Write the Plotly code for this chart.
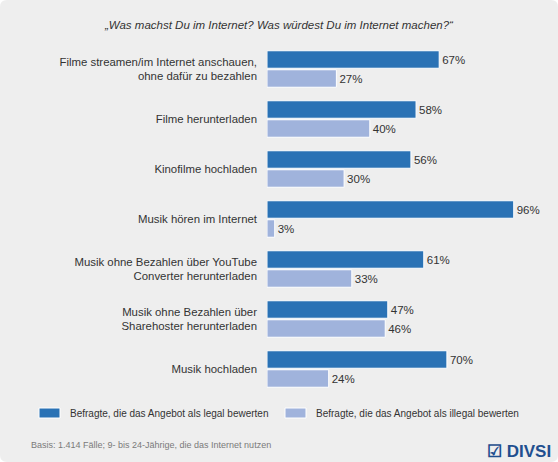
"""
DIVSI chart - legal vs. illegal rating of online activities
"""

import plotly.graph_objects as go

# --- data -----------------------------------------------------------------
categories = [
    "Filme streamen/im Internet anschauen,<br>ohne dafür zu bezahlen",
    "Filme herunterladen",
    "Kinofilme hochladen",
    "Musik hören im Internet",
    "Musik ohne Bezahlen über YouTube<br>Converter herunterladen",
    "Musik ohne Bezahlen über<br>Sharehoster herunterladen",
    "Musik hochladen",
]
legal = [67, 58, 56, 96, 61, 47, 70]
illegal = [27, 40, 30, 3, 33, 46, 24]

series_names = [
    "Befragte, die das Angebot als legal bewerten",
    "Befragte, die das Angebot als illegal bewerten",
]

title_text = "„Was machst Du im Internet? Was würdest Du im Internet machen?“"
source_text = "Basis: 1.414 Fälle; 9- bis 24-Jährige, die das Internet nutzen"

# --- layout helpers (pixel -> paper) ---------------------------------------
W, H = 558, 462
L, R, T, B = 267, 34, 44, 68
PW, PH = W - L - R, H - T - B


def px_x(x):
    return (x - L) / PW


def px_y(y):
    return (H - B - y) / PH


DARK = "#2a72b5"
LIGHT = "#a0b3dc"
TEXT = "#333333"
BG = "#eeeeee"

fig = go.Figure()
for vals, name, color in [(legal, series_names[0], DARK),
                          (illegal, series_names[1], LIGHT)]:
    fig.add_trace(go.Bar(
        x=vals,
        y=categories,
        name=name,
        orientation="h",
        marker=dict(color=color, line=dict(color="white", width=1)),
        text=[f"{v}%" for v in vals],
        textposition="outside",
        textfont=dict(size=11.5, color=TEXT),
        cliponaxis=False,
        showlegend=False,
    ))

fig.update_layout(
    width=W,
    height=H,
    margin=dict(l=L, r=R, t=T, b=B),
    paper_bgcolor="white",
    plot_bgcolor=BG,
    font=dict(family="Liberation Sans, Arial, sans-serif", color=TEXT),
    barmode="group",
    bargap=0.24,
    bargroupgap=0.08,
    xaxis=dict(range=[0, 100], visible=False, fixedrange=True),
    yaxis=dict(
        autorange="reversed",
        showgrid=False,
        zeroline=False,
        showline=False,
        ticks="",
        ticklabelstandoff=9,
        tickfont=dict(size=11.4, color=TEXT),
        fixedrange=True,
    ),
)

# rounded grey card behind everything
r = 7
x0, x1, y0, y1 = px_x(0), px_x(W), px_y(0), px_y(H)
rx, ry = r / PW, r / PH
card = (f"M{x0 + rx},{y0} L{x1 - rx},{y0} Q{x1},{y0} {x1},{y0 - ry} "
        f"L{x1},{y1 + ry} Q{x1},{y1} {x1 - rx},{y1} "
        f"L{x0 + rx},{y1} Q{x0},{y1} {x0},{y1 + ry} "
        f"L{x0},{y0 - ry} Q{x0},{y0} {x0 + rx},{y0} Z")
fig.add_shape(type="path", path=card, xref="paper", yref="paper",
              fillcolor=BG, line=dict(width=0), layer="below")

# legend drawn by hand (wide flat swatches like the original)
for (sx, tx), name, color in zip([(39, 68), (285, 314)], series_names,
                                 [DARK, LIGHT]):
    fig.add_shape(type="rect", xref="paper", yref="paper",
                  x0=px_x(sx), x1=px_x(sx + 21), y0=px_y(418), y1=px_y(408),
                  fillcolor=color, line=dict(color="white", width=1))
    fig.add_annotation(
        text=name, x=px_x(tx), y=px_y(413), xref="paper", yref="paper",
        showarrow=False, xanchor="left", yanchor="middle",
        font=dict(size=10, color=TEXT),
    )

fig.add_annotation(
    text=title_text, x=px_x(279), y=px_y(25), xref="paper", yref="paper",
    showarrow=False, xanchor="center", yanchor="middle",
    font=dict(size=11.5, color=TEXT, style="italic"),
)
fig.add_annotation(
    text=source_text, x=px_x(29), y=px_y(445), xref="paper", yref="paper",
    showarrow=False, xanchor="left", yanchor="middle",
    font=dict(size=9, color="#7a7a7a"),
)
fig.add_annotation(
    text="<b>☑ DIVSI</b>", x=px_x(553), y=px_y(451), xref="paper", yref="paper",
    showarrow=False, xanchor="right", yanchor="middle",
    font=dict(size=17, color="#1f4f8f", family="Liberation Sans, Arial"),
)

fig.write_html("out.html", config={"displayModeBar": False},
               post_script="document.body.style.margin='0';")
